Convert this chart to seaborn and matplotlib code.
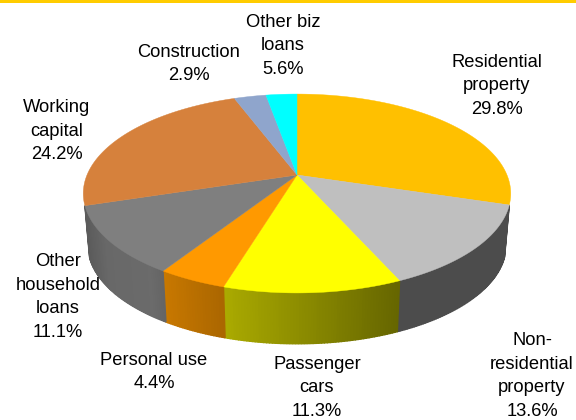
import numpy as np
import matplotlib
matplotlib.use("Agg")
import matplotlib.pyplot as plt
import seaborn as sns

sns.set_theme(style="white")
plt.rcParams["font.family"] = ["Liberation Sans", "DejaVu Sans"]

# drawn share of each slice (the last wedge is drawn about half as big as its label says)
categories = ["Residential\nproperty", "Non-\nresidential\nproperty", "Passenger\ncars",
              "Personal use", "Other\nhousehold\nloans", "Working\ncapital",
              "Construction", "Other biz\nloans"]
slice_values = [29.8, 13.6, 11.3, 4.4, 11.1, 24.2, 2.9, 2.8]
label_values = [29.8, 13.6, 11.3, 4.4, 11.1, 24.2, 2.9, 5.6]

top_colors = ["#ffc000", "#bfbfbf", "#ffff00", "#ff9900", "#7f7f7f", "#d6813c", "#8fa5cc", "#00ffff"]
label_pos = [(497, 86), (532, 376), (317, 388), (154, 372), (58, 297), (57, 131), (189, 64), (283, 46)]

# shading of the side wall, left to right across the picture
shade_x = [85, 105, 150, 165, 222, 398, 511]
shade_f = [0.72, 0.82, 0.84, 0.78, 0.67, 0.40, 0.40]


def project(theta, bottom=False):
    # theta clockwise from 12 o'clock, perspective view of the disc
    k = 0.186
    w = 1 + k * np.cos(theta)
    x = 297 + 210 * np.sin(theta) / w
    y = 175 - 96 * np.cos(theta) / w
    if bottom:
        x = 297 + (x - 297) * 0.978
        y = 227 + (y - 175) * 0.99
    return x, y


fig, ax = plt.subplots(figsize=(5.76, 4.2), dpi=100)
ax.set_position([0, 0, 1, 1])
ax.set_xlim(0, 576)
ax.set_ylim(420, 0)
ax.axis("off")

ax.fill_between([0, 576], 0, 3, color="#ffcc00", lw=0)

edges = np.cumsum([0] + slice_values) / np.sum(slice_values) * 2 * np.pi

# side wall first, in thin strips so the shading runs along the rim
for i, col in enumerate(top_colors):
    # only slices facing the viewer show a wall
    if i in (0, 5, 6, 7):
        continue
    base = np.array(matplotlib.colors.to_rgb(col))
    th = np.linspace(edges[i], edges[i + 1], max(int((edges[i + 1] - edges[i]) * 90), 2))
    x1, y1 = project(th)
    x2, y2 = project(th, bottom=True)
    for j in range(len(th) - 1):
        f = 0.40 if i == 1 else np.interp((x1[j] + x1[j + 1]) / 2, shade_x, shade_f)
        ax.fill([x1[j], x1[j + 1], x2[j + 1], x2[j]], [y1[j], y1[j + 1], y2[j + 1], y2[j]],
                color=base * f, lw=1.0, zorder=1)

# top of the pie
for i, col in enumerate(top_colors):
    th = np.linspace(edges[i], edges[i + 1], 80)
    x, y = project(th)
    ax.fill(np.r_[297, x], np.r_[175, y], color=col, lw=0.3, zorder=2)

for name, val, (lx, ly) in zip(categories, label_values, label_pos):
    ax.text(lx, ly, f"{name}\n{val:.1f}%", ha="center", va="center", fontsize=13.2,
            color="black", linespacing=1.5, zorder=3)

fig.savefig("out.png", dpi=100)
